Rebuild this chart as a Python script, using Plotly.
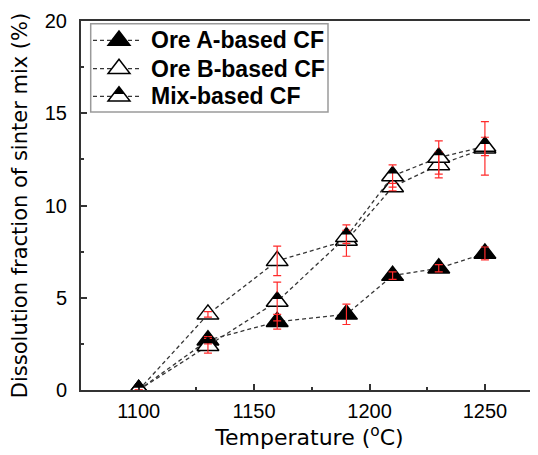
import math
import plotly.graph_objects as go

# ---------------- data ----------------
temps = [1100, 1130, 1160, 1190, 1210, 1230, 1250]
ore_a = [0, 2.7, 3.7, 4.1, 6.2, 6.6, 7.4]
ore_a_err = [0, 0.2, 0.4, 0.55, 0.2, 0.2, 0.35]
ore_b = [0, 4.1, 7.0, 8.1, 11.0, 12.2, 13.1]
ore_b_err = [0, 0.15, 0.8, 0.85, 0.2, 0.7, 1.45]
mix = [0, 2.4, 4.8, 8.3, 11.6, 12.6, 13.2]
mix_err = [0, 0.4, 1.05, 0.35, 0.6, 0.9, 0.5]
legend_names = ["Ore A-based CF", "Ore B-based CF", "Mix-based CF"]
x_title = "Temperature (<sup>o</sup>C)"
y_title = "Dissolution fraction of sinter mix (%)"

# ---------------- style ----------------
MS = 19
LINE_COL = "#353535"
AX_COL = "#333333"
ERR_COL = "#ff2a2a"
DASH = "4px,3px"
r = MS / 2
rt = r * 2 / math.sqrt(3)
f = 0.5

# the page body has an 8px margin; figure coordinates = page coordinates - 8
OFF = 8
FW, FH = 538 - OFF, 455 - OFF
PL, PR, PT, PB = 81 - OFF, 538 - OFF, 20.5 - OFF, 390.5 - OFF


def tri_path(frac=1.0):
    # triangle-up (plotly geometry) in pixel coords, y up; frac -> top part only
    yb = r - 1.5 * r * frac
    w = rt * frac
    return f"M 0,{r} L {-w},{yb} L {w},{yb} Z"


def px(xp):  # page x -> paper fraction
    return (xp - OFF - PL) / (PR - PL)


def py(yp):  # page y -> paper fraction
    return (PB - (yp - OFF)) / (PB - PT)


fig = go.Figure()

series = [
    (ore_a, "black"),
    (ore_b, "white"),
    (mix, "white"),
]
for (vals, fill), name in zip(series, legend_names):
    fig.add_trace(go.Scatter(
        x=temps, y=vals, name=name, mode="lines+markers",
        line=dict(color=LINE_COL, width=1.3, dash=DASH),
        marker=dict(symbol="triangle-up", size=MS, color=fill,
                    line=dict(color="black", width=1.5)),
    ))

# error bars on top of markers
for vals, errs in [(ore_a, ore_a_err), (ore_b, ore_b_err), (mix, mix_err)]:
    fig.add_trace(go.Scatter(
        x=temps, y=vals, mode="markers",
        marker=dict(size=1, opacity=0),
        error_y=dict(type="data", array=errs, visible=True,
                     color=ERR_COL, thickness=1.2, width=4),
        showlegend=False, hoverinfo="skip",
    ))

shapes = []
# half-filled tops for mix markers
for xv, yv in zip(temps, mix):
    shapes.append(dict(
        type="path", xref="x", yref="y", xsizemode="pixel", ysizemode="pixel",
        xanchor=xv, yanchor=yv, path=tri_path(f),
        fillcolor="black", line=dict(width=0), layer="above",
    ))

# manual legend (page coordinates of the reference)
shapes.append(dict(type="rect", xref="paper", yref="paper",
                   x0=px(90.7), x1=px(328), y0=py(111.7), y1=py(23.3),
                   line=dict(color="#9a9a9a", width=1.5), fillcolor="white",
                   layer="above"))
rows = [40, 68.3, 96]
fills = ["black", "white", "white"]
annotations = []
for yr, fill, name in zip(rows, fills, legend_names):
    shapes.append(dict(type="line", xref="paper", yref="paper",
                       x0=px(93), x1=px(142), y0=py(yr), y1=py(yr),
                       line=dict(color=LINE_COL, width=1.3, dash=DASH),
                       layer="above"))
    shapes.append(dict(type="path", xref="paper", yref="paper",
                       xsizemode="pixel", ysizemode="pixel",
                       xanchor=px(119), yanchor=py(yr), path=tri_path(1.0),
                       fillcolor=fill, line=dict(color="black", width=1.5),
                       layer="above"))
    annotations.append(dict(
        xref="paper", yref="paper", x=px(149), y=py(yr),
        xanchor="left", yanchor="middle", showarrow=False,
        text=f"<b>{name}</b>",
        font=dict(family="Liberation Sans, Arial, sans-serif", size=23, color="black"),
    ))
# half-filled top of mix legend marker
shapes.append(dict(type="path", xref="paper", yref="paper",
                   xsizemode="pixel", ysizemode="pixel",
                   xanchor=px(119), yanchor=py(rows[2]), path=tri_path(f),
                   fillcolor="black", line=dict(width=0), layer="above"))

tick_font = dict(family="Liberation Sans, Arial, sans-serif", size=20, color="black")

fig.update_layout(
    width=FW, height=FH,
    margin=dict(l=PL, r=FW - PR, t=PT, b=FH - PB, pad=0),
    plot_bgcolor="white", paper_bgcolor="white",
    showlegend=False,
    shapes=shapes, annotations=annotations,
    xaxis=dict(
        range=[1075, 1273], dtick=50, tick0=1100, automargin=False,
        ticks="inside", ticklen=6, tickwidth=1.5, tickcolor=AX_COL,
        minor=dict(dtick=25, tick0=1075, ticks="inside", ticklen=3,
                   tickwidth=1.5, tickcolor=AX_COL),
        showline=True, linewidth=2, linecolor=AX_COL, mirror=True,
        showgrid=False, zeroline=False, tickfont=tick_font,
        ticklabelstandoff=2,
        title=dict(text=x_title, standoff=0,
                   font=dict(family="DejaVu Sans, sans-serif", size=22, color="black")),
    ),
    yaxis=dict(
        range=[0, 20], dtick=5, tick0=0, automargin=False,
        ticks="inside", ticklen=6, tickwidth=1.5, tickcolor=AX_COL,
        minor=dict(dtick=2.5, ticks="inside", ticklen=3,
                   tickwidth=1.5, tickcolor=AX_COL),
        showline=True, linewidth=2, linecolor=AX_COL, mirror=False,
        showgrid=False, zeroline=False, tickfont=tick_font,
        ticklabelstandoff=8,
        title=dict(text=y_title, standoff=11,
                   font=dict(family="DejaVu Sans, sans-serif", size=21, color="black")),
    ),
)

fig.write_html("out.html")
